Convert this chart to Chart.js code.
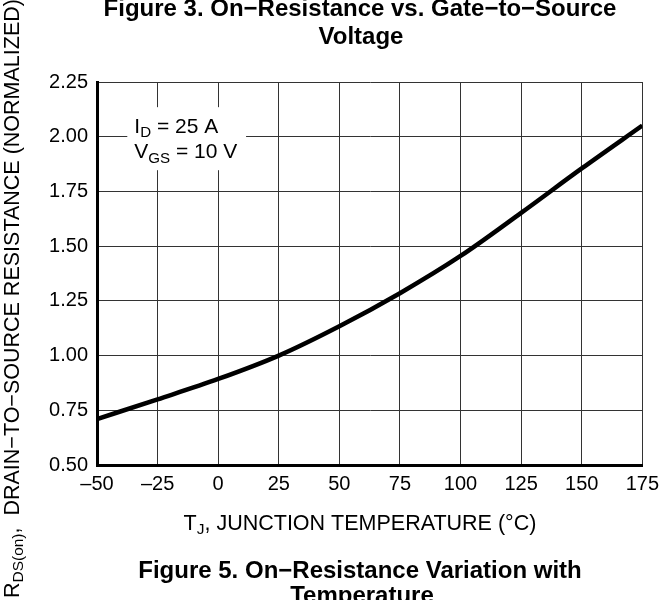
<!DOCTYPE html>
<html>
<head>
<meta charset="utf-8">
<script src="https://cdn.jsdelivr.net/npm/chart.js@4.4.1/dist/chart.umd.min.js"></script>
<style>
  html, body { margin: 0; padding: 0; background: #fff; }
  #wrap { width: 666px; height: 600px; position: relative; }
</style>
</head>
<body>
<div id="wrap"><canvas id="c" width="666" height="600"></canvas></div>
<script>
// ---- data ----
const temperatures = [-50, -25, 0, 25, 50, 75, 100, 125, 150, 175];
const rdsNormalized = [0.71, 0.80, 0.893, 1.00, 1.134, 1.285, 1.455, 1.652, 1.855, 2.051];
const xTicks = [-50, -25, 0, 25, 50, 75, 100, 125, 150, 175];
const yTicks = [0.50, 0.75, 1.00, 1.25, 1.50, 1.75, 2.00, 2.25];
const topTitle = ["Figure 3. On\u2212Resistance vs. Gate\u2212to\u2212Source", "Voltage"];
const bottomTitle = ["Figure 5. On\u2212Resistance Variation with", "Temperature"];

const FONT = "'Liberation Sans', Arial, Helvetica, sans-serif";

function drawSub(ctx, parts, x, y, size) {
  let cx = x;
  for (const [t, sub] of parts) {
    if (sub) {
      ctx.font = (size * 0.72) + "px " + FONT;
      ctx.fillText(t, cx, y + size * 0.28);
    } else {
      ctx.font = size + "px " + FONT;
      ctx.fillText(t, cx, y);
    }
    cx += ctx.measureText(t).width;
  }
  return cx - x;
}
function measureSub(ctx, parts, size) {
  let w = 0;
  for (const [t, sub] of parts) {
    ctx.font = (sub ? size * 0.72 : size) + "px " + FONT;
    w += ctx.measureText(t).width;
  }
  return w;
}

const decor = {
  id: 'decor',
  beforeDatasetsDraw(chart) {
    const ctx = chart.ctx;
    const xs = chart.scales.x, ys = chart.scales.y;
    const x0 = xs.getPixelForValue(-37.5), x1 = xs.getPixelForValue(11.5);
    const y0 = ys.getPixelForValue(2.135), y1 = ys.getPixelForValue(1.847);
    ctx.save();
    ctx.fillStyle = '#fff';
    ctx.fillRect(x0, y0, x1 - x0, y1 - y0);
    ctx.fillStyle = '#000';
    ctx.textBaseline = 'middle';
    ctx.textAlign = 'left';
    drawSub(ctx, [["I", false], ["D", true], [" = 25 A", false]], x0 + 7, ys.getPixelForValue(2.045), 21);
    drawSub(ctx, [["V", false], ["GS", true], [" = 10 V", false]], x0 + 7, ys.getPixelForValue(1.928), 21);
    ctx.restore();
  },
  afterDraw(chart) {
    const ctx = chart.ctx;
    ctx.save();
    ctx.fillStyle = '#000';
    ctx.textAlign = 'center';
    ctx.textBaseline = 'alphabetic';
    ctx.font = "bold 24px " + FONT;
    ctx.fillText(topTitle[0], 360, 16);
    ctx.fillText(topTitle[1], 361, 44);
    ctx.fillText(bottomTitle[0], 360, 578);
    ctx.fillText(bottomTitle[1], 362, 603);

    // x axis title
    ctx.textAlign = 'left';
    ctx.textBaseline = 'middle';
    const xt = [["T", false], ["J", true], [", JUNCTION TEMPERATURE (\u00B0C)", false]];
    const wx = measureSub(ctx, xt, 21.5);
    drawSub(ctx, xt, 360 - wx / 2, 524, 21.5);

    // y axis title rotated
    ctx.translate(13, 598);
    ctx.rotate(-Math.PI / 2);
    const yt = [["R", false], ["DS(on)", true], [",  DRAIN\u2212TO\u2212SOURCE RESISTANCE (NORMALIZED)", false]];
    drawSub(ctx, yt, 0, 0, 21.5);
    ctx.restore();
  }
};

new Chart(document.getElementById('c'), {
  type: 'line',
  data: {
    datasets: [{
      data: temperatures.map((t, i) => ({ x: t, y: rdsNormalized[i] })),
      borderColor: '#000',
      borderWidth: 4.5,
      pointRadius: 0,
      cubicInterpolationMode: 'monotone',
      fill: false
    }]
  },
  options: {
    responsive: false,
    animation: false,
    devicePixelRatio: 1,
    layout: { padding: { left: 0, right: 20, top: 82, bottom: 0 } },
    plugins: { legend: { display: false }, tooltip: { enabled: false }, title: { display: false } },
    scales: {
      x: {
        type: 'linear', min: -50, max: 175,
        afterBuildTicks(s) { s.ticks = xTicks.map(v => ({ value: v })); },
        afterFit(s) { s.height = 135; },
        grid: { color: '#333', lineWidth: 1, drawTicks: false },
        border: { color: '#000', width: 3 },
        ticks: {
          padding: 7, color: '#000', maxRotation: 0, autoSkip: false,
          font: { family: FONT, size: 20 },
          callback: v => (v < 0 ? '\u2013' + Math.abs(v) : String(v))
        }
      },
      y: {
        type: 'linear', min: 0.5, max: 2.25,
        afterBuildTicks(s) { s.ticks = yTicks.map(v => ({ value: v })); },
        afterFit(s) { s.width = 97; },
        grid: { color: '#333', lineWidth: 1, drawTicks: false },
        border: { color: '#000', width: 3 },
        ticks: {
          padding: 9, color: '#000', autoSkip: false,
          font: { family: FONT, size: 20 },
          callback: v => Number(v).toFixed(2)
        }
      }
    }
  },
  plugins: [decor]
});
</script>
</body>
</html>
